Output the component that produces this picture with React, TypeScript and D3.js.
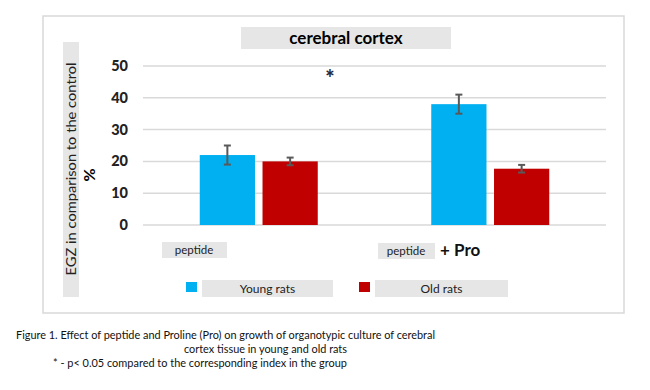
import React from "react";
import * as d3 from "d3";

// data
const groups = ["peptide", "peptide + Pro"];
const seriesNames = ["Young rats", "Old rats"];
const youngValues = [22, 38];
const oldValues = [20, 17.7];
const youngErrors = [3, 3];
const oldErrors = [1.2, 1.2];
const yTicks = [0, 10, 20, 30, 40, 50];
const colors = ["#00b0f0", "#c00000"];
const captionLines = [
  "Figure 1. Effect of peptide and Proline (Pro) on growth of organotypic culture of cerebral",
  "cortex tissue in young and old rats",
  "* - p< 0.05 compared to the corresponding index in the group",
];

const FONT = "Lato, 'Open Sans', sans-serif";

const App = () => {
  const width = 650;
  const height = 390;
  const plot = { left: 143, right: 606, top: 66, bottom: 225 };

  const x0 = d3.scaleBand().domain(groups).range([plot.left, plot.right]);
  const x1 = d3
    .scaleBand()
    .domain(seriesNames)
    .range([0, 118])
    .paddingInner(0.12);
  const y = d3.scaleLinear().domain([0, 50]).range([plot.bottom, plot.top]);

  const series = [
    { name: seriesNames[0], values: youngValues, errors: youngErrors, color: colors[0] },
    { name: seriesNames[1], values: oldValues, errors: oldErrors, color: colors[1] },
  ];

  const groupStart = (g) => x0(g) + x0.bandwidth() / 2 - 59;

  return (
    <svg width={width} height={height} style={{ display: "block", margin: "-8px" }}>
      <rect width={width} height={height} fill="#fff" />
      {/* chart frame */}
      <rect x={43} y={16} width={581} height={297} fill="#fff" stroke="#d9d9d9" strokeWidth={1.5} />

      {/* title */}
      <rect x={241} y={27} width={210} height={22} fill="#e6e6e6" />
      <text x={346} y={44} textAnchor="middle" fontFamily={FONT} fontWeight="bold" fontSize={17}>
        cerebral cortex
      </text>

      {/* y axis label */}
      <rect x={63} y={42} width={16} height={255} fill="#e6e6e6" />
      <text
        transform={`translate(76, 169) rotate(-90)`}
        textAnchor="middle"
        fontFamily={FONT}
        fontSize={13.5}
        fill="#222"
        textLength={213}
        lengthAdjust="spacingAndGlyphs"
      >
        EGZ in comparison to the control
      </text>
      <text
        transform={`translate(95, 175) rotate(-90)`}
        textAnchor="middle"
        fontFamily={FONT}
        fontWeight="bold"
        fontSize={16}
      >
        %
      </text>

      {/* grid and ticks */}
      {yTicks.map((t) => (
        <g key={t}>
          <line x1={plot.left} x2={plot.right} y1={y(t)} y2={y(t)} stroke="#d9d9d9" strokeWidth={1.5} />
          <text
            x={128}
            y={y(t)}
            dy="0.35em"
            textAnchor="end"
            fontFamily={FONT}
            fontWeight="900"
            fontSize={14.5}
            fill="#222"
          >
            {t}
          </text>
        </g>
      ))}

      {/* bars */}
      {series.map((s) =>
        groups.map((g, i) => {
          const bx = groupStart(g) + x1(s.name);
          const cx = bx + x1.bandwidth() / 2;
          return (
            <g key={s.name + g}>
              <rect
                x={bx}
                y={y(s.values[i])}
                width={x1.bandwidth()}
                height={y(0) - y(s.values[i])}
                fill={s.color}
              />
              <g stroke="#595959" strokeWidth={2}>
                <line x1={cx} x2={cx} y1={y(s.values[i] + s.errors[i])} y2={y(s.values[i] - s.errors[i])} />
                <line x1={cx - 3.5} x2={cx + 3.5} y1={y(s.values[i] + s.errors[i])} y2={y(s.values[i] + s.errors[i])} />
                <line x1={cx - 3.5} x2={cx + 3.5} y1={y(s.values[i] - s.errors[i])} y2={y(s.values[i] - s.errors[i])} />
              </g>
            </g>
          );
        })
      )}

      {/* significance mark */}
      <text x={330} y={86} textAnchor="middle" fontFamily={FONT} fontWeight="900" fontSize={22} fill="#1f2a44">
        *
      </text>

      {/* category labels */}
      <rect x={162} y={242} width={65} height={16} fill="#e6e6e6" />
      <text x={194} y={254} textAnchor="middle" fontFamily={FONT} fontSize={11.5} fill="#222">
        peptide
      </text>
      <rect x={378} y={243} width={57} height={16} fill="#e6e6e6" />
      <text x={406} y={255} textAnchor="middle" fontFamily={FONT} fontSize={11.5} fill="#222">
        peptide
      </text>
      <text x={440} y={256} fontFamily={FONT} fontWeight="bold" fontSize={17} fill="#111">
        + Pro
      </text>

      {/* legend */}
      {series.map((s, i) => {
        const lx = [186, 359][i];
        const bw = [131, 133][i];
        return (
          <g key={s.name}>
            <rect x={lx} y={282} width={11} height={10} fill={s.color} />
            <rect x={lx + 16} y={280} width={bw} height={17} fill="#e6e6e6" />
            <text x={lx + 16 + bw / 2} y={292.5} textAnchor="middle" fontFamily={FONT} fontSize={12} fill="#222">
              {s.name}
            </text>
          </g>
        );
      })}

      {/* caption */}
      <text x={16} y={339} fontFamily={FONT} fontSize={12} fill="#111" textLength={419} lengthAdjust="spacingAndGlyphs">
        {captionLines[0]}
      </text>
      <text x={184} y={353} fontFamily={FONT} fontSize={12} fill="#111" textLength={163} lengthAdjust="spacingAndGlyphs">
        {captionLines[1]}
      </text>
      <text x={53} y={367} fontFamily={FONT} fontSize={12} fill="#111" textLength={294} lengthAdjust="spacingAndGlyphs">
        {captionLines[2]}
      </text>
    </svg>
  );
};

export default App;
